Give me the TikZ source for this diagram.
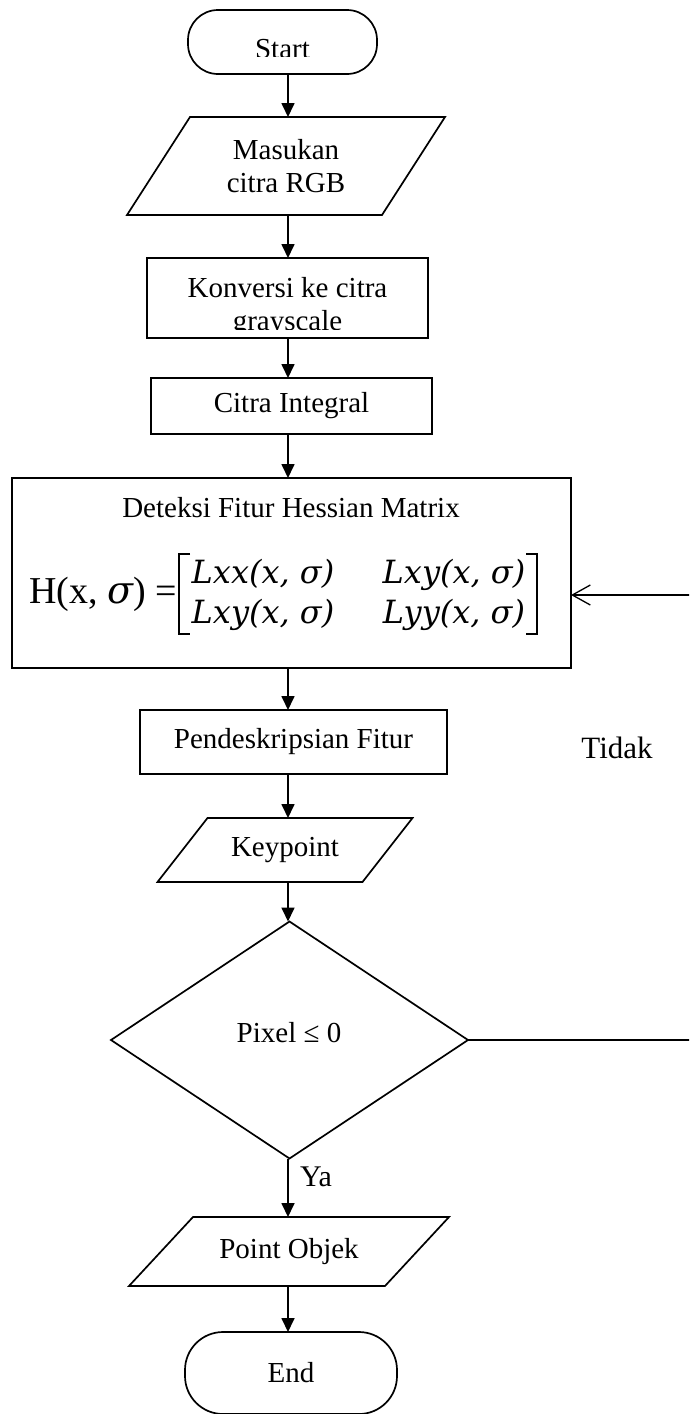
\documentclass[tikz,border=0pt]{standalone}
\usepackage{fontspec}
\setmainfont{Liberation Serif}
\newfontfamily\cambfont{DejaVu Serif}
\usetikzlibrary{arrows.meta,shapes.geometric}
\tikzset{
  ln/.style={line width=1.7pt},
  txt/.style={inner sep=0pt, outer sep=0pt, align=center, font=\fontsize{29}{33}\selectfont},
  procbox/.style={txt, draw, ln, rectangle},
  termbox/.style={txt, draw, ln, rectangle, rounded corners=#1},
  decision/.style={txt, draw, ln, diamond},
  para/.style={ln, line join=miter},
  arr/.style={ln, -{Triangle[length=14pt,width=13pt]}},
  openarr/.style={line width=1.3pt, -{Straight Barb[length=18pt,width=20pt]}},
  entry/.style={inner sep=0pt, anchor=base, font=\fontsize{32}{38}\selectfont\cambfont\itshape},
  brk/.style={line width=2.2pt},
}
\begin{document}
\begin{tikzpicture}[x=1pt,y=-1pt]
\useasboundingbox (0,0) rectangle (689,1414);
\clip (0,0) rectangle (689,1414);
\coordinate (ax) at (288,0);

% Start
\node[termbox=30pt, minimum width=189pt, minimum height=64pt] (start) at (282.5,42) {};
\begin{scope}
  \clip (150,0) rectangle (420,56);
  \node[txt, anchor=base] (starttxt) at (282.5,58) {Start};
\end{scope}

% Masukan citra RGB (parallelogram)
\node[txt, minimum width=255pt, minimum height=98pt] (p1) at (286,166) {Masukan\\citra RGB};
\draw[para] ([xshift=31.5pt]p1.north west) -- ([xshift=31.5pt]p1.north east)
  -- ([xshift=-31.5pt]p1.south east) -- ([xshift=-31.5pt]p1.south west) -- cycle;

% Konversi
\node[procbox, minimum width=281pt, minimum height=80pt] (konv) at (287.5,298) {};
\node[txt, anchor=base] (konvA) at (287.5,297) {Konversi ke citra};
\begin{scope}
  \clip (140,250) rectangle (440,329);
  \node[txt, anchor=base] (konvB) at (287.5,330) {grayscale};
\end{scope}

% Citra Integral
\node[procbox, minimum width=281pt, minimum height=56pt] (citra) at (291.5,406) {Citra Integral};

% Hessian
\node[procbox, minimum width=559pt, minimum height=190pt] (hess) at (291.5,573) {};
\node[txt, anchor=base] (hesstitle) at (291,517) {Deteksi Fitur Hessian Matrix};
\node[inner sep=0pt, anchor=base, font=\fontsize{38}{40}\selectfont] (hlhs) at (103,603)
  {H(x, {\cambfont\itshape σ}) =};
\node[entry] (m11) at (263,583) {Lxx(x, σ)};
\node[entry] (m12) at (454,583) {Lxy(x, σ)};
\node[entry] (m21) at (263,623) {Lxy(x, σ)};
\node[entry] (m22) at (454,623) {Lyy(x, σ)};
\draw[brk] (190,554) -- (179,554) -- (179,634) -- (190,634);
\draw[brk] (526,554) -- (537,554) -- (537,634) -- (526,634);

% Pendeskripsian
\node[procbox, minimum width=307pt, minimum height=64pt] (pend) at (293.5,742) {Pendeskripsian Fitur};

% Keypoint
\node[txt, minimum width=205pt, minimum height=64pt] (kp) at (285,850) {Keypoint};
\draw[para] ([xshift=25pt]kp.north west) -- ([xshift=25pt]kp.north east)
  -- ([xshift=-25pt]kp.south east) -- ([xshift=-25pt]kp.south west) -- cycle;

% Decision
\node[decision, minimum width=357pt, minimum height=237pt] (dia) at (289.5,1040) {};
\node[txt] (diatxt) at (289,1033) {Pixel ≤ 0};

% Point Objek
\node[txt, minimum width=256pt, minimum height=69pt] (po) at (289,1251.5) {Point Objek};
\draw[para] ([xshift=32pt]po.north west) -- ([xshift=32pt]po.north east)
  -- ([xshift=-32pt]po.south east) -- ([xshift=-32pt]po.south west) -- cycle;

% End
\node[termbox=38pt, minimum width=212pt, minimum height=82pt] (end) at (291,1373) {End};

% Labels
\node[txt, font=\fontsize{31}{33}\selectfont] (tidak) at (617,748) {Tidak};
\node[txt, font=\fontsize{30}{33}\selectfont] (ya) at (316,1177) {Ya};

% Connectors
\draw[arr] (start.south -| ax) -- (p1.north -| ax);
\draw[arr] (p1.south -| ax) -- (konv.north -| ax);
\draw[arr] (konv.south -| ax) -- (citra.north -| ax);
\draw[arr] (citra.south -| ax) -- (hess.north -| ax);
\draw[arr] (hess.south -| ax) -- (pend.north -| ax);
\draw[arr] (pend.south -| ax) -- (kp.north -| ax);
\draw[arr] (kp.south -| ax) -- (dia.north -| ax);
\draw[arr] (dia.south -| ax) -- (po.north -| ax);
\draw[arr] (po.south -| ax) -- (end.north -| ax);

% Tidak loop (runs past the right edge)
\coordinate (tR) at (696,1040);
\coordinate (tU) at (696,595);
\draw[ln] (dia.east) -- (tR) -- (tU);
\draw[openarr] (tU) -- (tU -| hess.east);
\end{tikzpicture}
\end{document}
